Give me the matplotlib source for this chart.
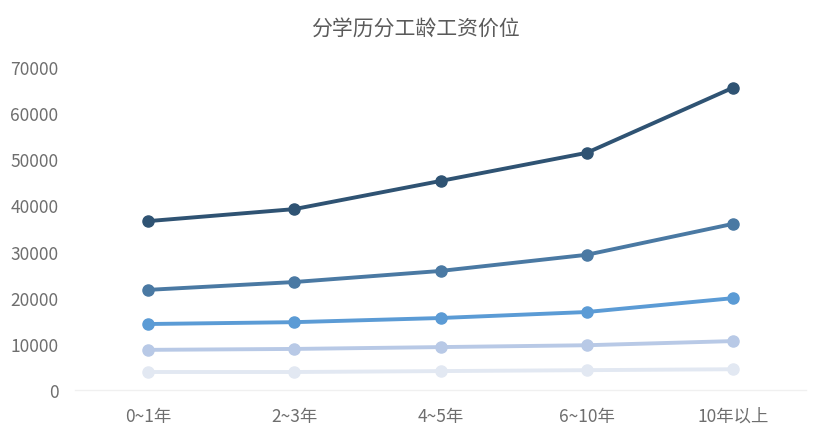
import matplotlib
matplotlib.use("Agg")
import matplotlib.pyplot as plt

plt.rcParams['font.family'] = ['Noto Sans CJK SC', 'DejaVu Sans']

categories = ["0~1年", "2~3年", "4~5年", "6~10年", "10年以上"]
series_names = ["博士", "硕士", "本科", "大专", "高中及以下"]
s1 = [36600, 39200, 45300, 51400, 65500]
s2 = [21700, 23400, 25800, 29300, 36000]
s3 = [14300, 14700, 15600, 16900, 19900]
s4 = [8700, 8900, 9300, 9700, 10600]
s5 = [3900, 3900, 4100, 4300, 4500]
yticks = [0, 10000, 20000, 30000, 40000, 50000, 60000, 70000]
title = "分学历分工龄工资价位"

colors = ["#2f5373", "#4a79a3", "#5b9bd5", "#b8c9e6", "#e2e8f2"]

fig = plt.figure(figsize=(8.3, 4.39), dpi=100)
ax = fig.add_axes([75/830, 1-391/439, (806-75)/830, (391-68)/439])

x = list(range(len(categories)))
for vals, c, n in zip([s5, s4, s3, s2, s1], colors[::-1], series_names[::-1]):
    ax.plot(x, vals, color=c, lw=2.8, marker='o', ms=8, label=n, solid_capstyle='round')

ax.set_xlim(-0.5, 4.5)
ax.set_ylim(0, 70000)
ax.set_yticks(yticks)
ax.set_yticklabels([str(v) for v in yticks])
ax.set_xticks(x)
ax.set_xticklabels(categories)
for s in ['top', 'right', 'left']:
    ax.spines[s].set_visible(False)
ax.spines['bottom'].set_color('#f0f0f0')
ax.spines['bottom'].set_linewidth(1)
ax.tick_params(axis='both', length=0, labelsize=12.5, colors='#6e6e6e')
ax.tick_params(axis='x', pad=12)
ax.tick_params(axis='y', pad=12)

fig.text(415/830, 1-30/439, title, ha='center', va='center', fontsize=15, color='#5a5a5a')

fig.savefig("out.png", dpi=100, facecolor='white')
